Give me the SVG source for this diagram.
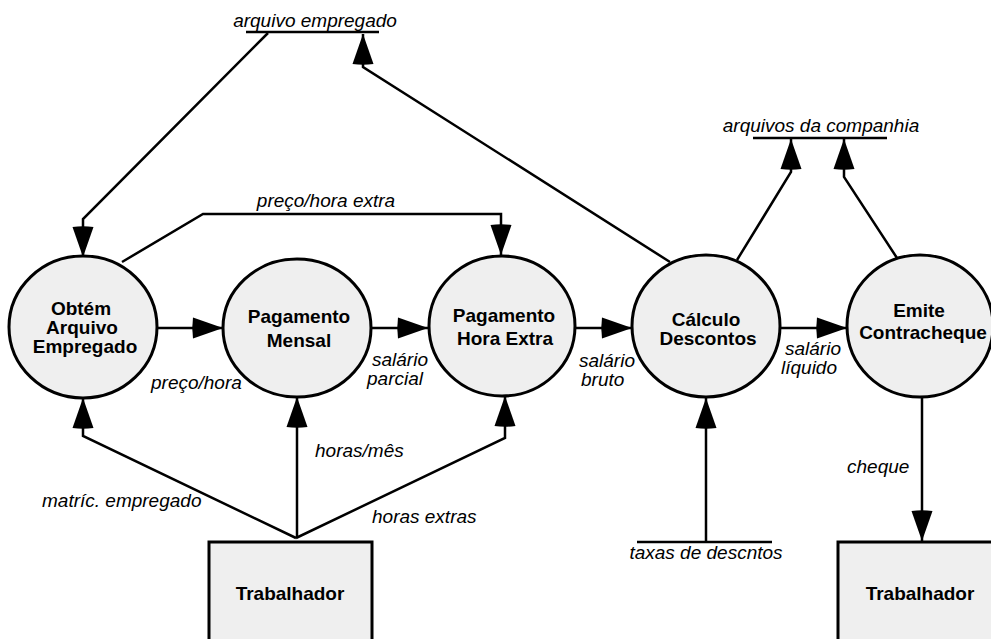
<svg xmlns="http://www.w3.org/2000/svg" width="991" height="639" viewBox="0 0 991 639">
<defs>
<style>
.proc{fill:#efefef;stroke:#000;stroke-width:3}
.ent{fill:#efefef;stroke:#000;stroke-width:3}
.store{stroke:#000;stroke-width:2.5;fill:none}
.flow{fill:none;stroke:#000;stroke-width:2.5;marker-end:url(#arr)}
.nl{font-family:"Liberation Sans",Arial,sans-serif;font-weight:bold;font-size:19px;fill:#000;text-anchor:middle}
.fl{font-family:"Liberation Sans",Arial,sans-serif;font-style:italic;font-size:19px;fill:#000}
.mid{text-anchor:middle}
</style>
<marker id="arr" markerUnits="userSpaceOnUse" markerWidth="32" markerHeight="23" refX="30" refY="11.5" orient="auto" viewBox="-2 0 32 23">
<path d="M0,1 L30,11.5 L0,22 Q-1.5,11.5 0,1 Z" fill="#000"/>
</marker>
</defs>
<rect width="991" height="639" fill="#fff"/>

<g id="connectors">
<polyline class="flow" points="268,33 83,219 83,257"/>
<polyline class="flow" points="670,262 363,67 363,34"/>
<polyline class="flow" points="122,262 203,214 501,214 501,255"/>
<line class="flow" x1="157" y1="328" x2="223" y2="328"/>
<line class="flow" x1="372" y1="328" x2="428" y2="328"/>
<line class="flow" x1="575" y1="328" x2="632" y2="328"/>
<line class="flow" x1="780" y1="328" x2="847" y2="328"/>
<polyline class="flow" points="737,260 791,172 791,139"/>
<polyline class="flow" points="897,258 844,177 844,139"/>
<polyline class="flow" points="296,538 83,436 83,398"/>
<line class="flow" x1="297" y1="538" x2="297" y2="397"/>
<polyline class="flow" points="296,538 505,438 505,396"/>
<line class="flow" x1="706" y1="542" x2="706" y2="398"/>
<line class="flow" x1="922" y1="397" x2="922" y2="541"/>
</g>

<g id="labels">
<text class="fl mid" x="326" y="207">preço/hora extra</text>
<text class="fl" x="151" y="389">preço/hora</text>
<text class="fl" x="372" y="366">salário</text>
<text class="fl" x="367" y="385">parcial</text>
<text class="fl" x="579" y="367">salário</text>
<text class="fl" x="581" y="386">bruto</text>
<text class="fl" x="785" y="355">salário</text>
<text class="fl" x="781" y="374">líquido</text>
<text class="fl" x="315" y="457">horas/mês</text>
<text class="fl" x="42" y="507">matríc. empregado</text>
<text class="fl" x="372" y="523">horas extras</text>
<text class="fl" x="847" y="473">cheque</text>
</g>

<g id="store-arquivo-empregado">
<line class="store" x1="246" y1="32" x2="379" y2="32"/>
<text class="fl mid" x="315" y="27">arquivo empregado</text>
</g>
<g id="store-arquivos-companhia">
<line class="store" x1="753" y1="138" x2="887" y2="138"/>
<text class="fl mid" x="821" y="132">arquivos da companhia</text>
</g>
<g id="store-taxas">
<line class="store" x1="637" y1="542" x2="772" y2="542"/>
<text class="fl mid" x="706" y="559">taxas de descntos</text>
</g>

<g id="p-obtem">
<ellipse class="proc" cx="83" cy="327" rx="74" ry="71"/>
<text class="nl" x="81" y="315">Obtém</text>
<text class="nl" x="82" y="334">Arquivo</text>
<text class="nl" x="85" y="353">Empregado</text>
</g>
<g id="p-mensal">
<ellipse class="proc" cx="297" cy="328" rx="74" ry="69"/>
<text class="nl" x="299" y="323">Pagamento</text>
<text class="nl" x="299" y="347">Mensal</text>
</g>
<g id="p-horaextra">
<ellipse class="proc" cx="502" cy="326" rx="73" ry="70"/>
<text class="nl" x="504" y="322">Pagamento</text>
<text class="nl" x="505" y="345">Hora Extra</text>
</g>
<g id="p-calculo">
<ellipse class="proc" cx="706" cy="326" rx="74" ry="71"/>
<text class="nl" x="706" y="326">Cálculo</text>
<text class="nl" x="708" y="345">Descontos</text>
</g>
<g id="p-emite">
<ellipse class="proc" cx="920" cy="326" rx="73" ry="71"/>
<text class="nl" x="919" y="317">Emite</text>
<text class="nl" x="923" y="339">Contracheque</text>
</g>

<g id="e-trabalhador1">
<rect class="ent" x="209" y="542" width="163" height="110"/>
<text class="nl" x="290" y="600">Trabalhador</text>
</g>
<g id="e-trabalhador2">
<rect class="ent" x="838" y="542" width="170" height="110"/>
<text class="nl" x="920" y="600">Trabalhador</text>
</g>
</svg>
